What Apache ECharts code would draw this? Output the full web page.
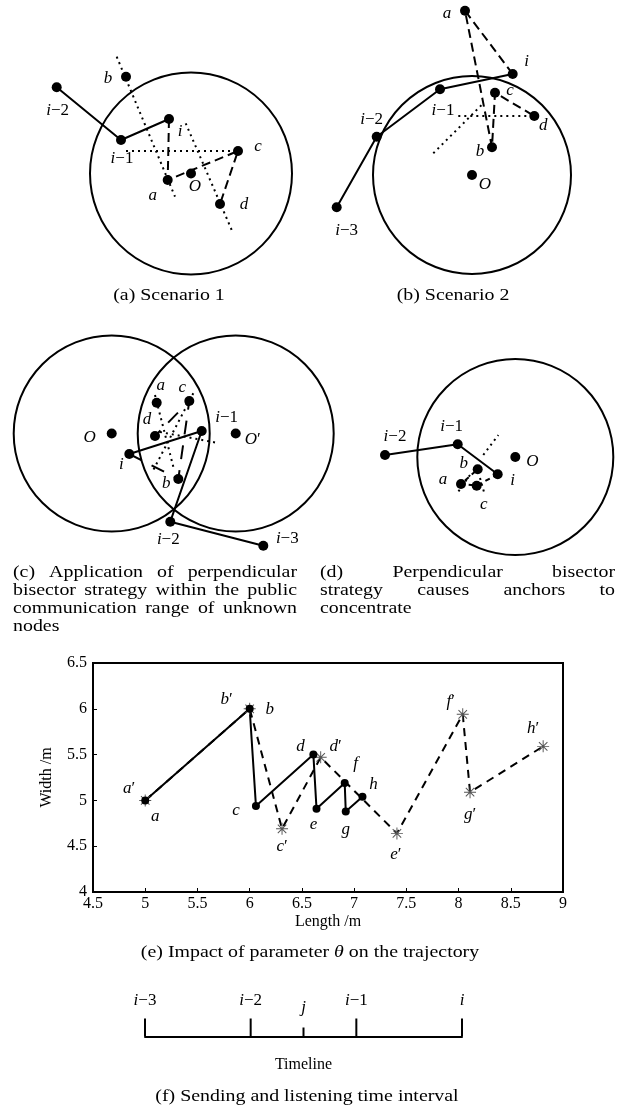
<!DOCTYPE html>
<html>
<head>
<meta charset="utf-8">
<script src="https://cdn.jsdelivr.net/npm/echarts@6/dist/echarts.min.js"></script>
<style>
  html, body { margin: 0; padding: 0; background: #fff; }
  #main { width: 620px; height: 1108px; }
</style>
</head>
<body>
<div id="main"></div>
<script>
// ---------------------------------------------------------------------------
// Geometry of the four sketches (a)-(d): node positions relative to node O,
// in metres-like units (x to the right, y upwards).
// ---------------------------------------------------------------------------

// (a) Scenario 1
const aNodes = [['i−2', -13.43, 8.62], ['i−1', -7.0, 3.35], ['i', -2.2, 5.45], ['a', -2.33, -0.65],
                ['O', 0, 0], ['c', 4.7, 2.25], ['d', 2.9, -3.05], ['b', -6.5, 9.68]];
const aCircles = [[0, 0, 10.1]];
const aSolid = ['i−2', 'i−1', 'i'];
const aDashed = ['i', 'a', 'c', 'd'];
const aDotted = [[[-7.43, 11.68], [-1.6, -2.32]], [[-6.5, 2.25], [4.7, 2.25]], [[-0.53, 5.02], [4.07, -5.65]]];

// (b) Scenario 2
const bNodes = [['a', -0.7, 16.43], ['i', 4.07, 10.1], ['i−1', -3.2, 8.57], ['c', 2.3, 8.23],
                ['d', 6.23, 5.9], ['b', 2.0, 2.77], ['O', 0, 0], ['i−2', -9.53, 3.83], ['i−3', -13.53, -3.23]];
const bCircles = [[0, 0, 9.9]];
const bSolid = ['i−3', 'i−2', 'i−1', 'i'];
const bDashed = ['i', 'a', 'b', 'c', 'd'];
const bDotted = [[[-1.37, 5.9], [6.23, 5.9]], [[-3.87, 2.17], [1.13, 7.17]]];

// (c) Common communication range of two unknown nodes
const cNodes = [['O', 0, 0], ['O′', 12.4, 0], ['a', 4.5, 3.08], ['c', 7.76, 3.25], ['d', 4.33, -0.25],
                ['i−1', 9.0, 0.25], ['i', 1.76, -2.05], ['b', 6.66, -4.55], ['i−2', 5.86, -8.82], ['i−3', 15.16, -11.22]];
const cCircles = [[0, 0, 9.8], [12.4, 0, 9.8]];
const cSolid = ['i−3', 'i−2', 'i−1', 'i'];
const cDashed = ['i', 'b', 'c', 'd'];
const cDotted = [[[4.33, 3.85], [6.16, -3.32]], [[8.16, 4.02], [4.16, -3.65]], [[4.83, 0.15], [10.63, -0.95]]];

// (d) Concentrated anchors
const dNodes = [['i−2', -13.03, 0.2], ['i−1', -5.76, 1.27], ['i', -1.76, -1.73], ['O', 0, 0],
                ['b', -3.76, -1.23], ['a', -5.43, -2.7], ['c', -3.86, -2.87]];
const dCircles = [[0, 0, 9.8]];
const dSolid = ['i−2', 'i−1', 'i'];
const dDashed = ['i', 'c', 'a', 'b'];
const dDotted = [[[-3.2, 0.2], [-1.7, 2.2]], [[-4.53, -1.8], [-5.73, -3.5]], [[-3.53, -2.1], [-3.13, -3.5]]];

// ---------------------------------------------------------------------------
// (e) Trajectory with / without parameter theta (Length /m, Width /m)
// ---------------------------------------------------------------------------
const eSolidNames = ['a', 'b', 'c', 'd', 'e', 'f', 'g', 'h'];
const eSolidX = [5.0, 6.0, 6.06, 6.61, 6.64, 6.91, 6.92, 7.08];
const eSolidY = [5.0, 6.0, 4.94, 5.5, 4.91, 5.19, 4.88, 5.04];
const eDashedNames = ['a′', 'b′', 'c′', 'd′', 'e′', 'f′', 'g′', 'h′'];
const eDashedX = [5.0, 6.0, 6.31, 6.68, 7.41, 8.04, 8.11, 8.81];
const eDashedY = [5.0, 6.0, 4.69, 5.47, 4.64, 5.94, 5.09, 5.59];
const eXTicks = [4.5, 5, 5.5, 6, 6.5, 7, 7.5, 8, 8.5, 9];
const eYTicks = [4, 4.5, 5, 5.5, 6, 6.5];

// ---------------------------------------------------------------------------
// (f) Timeline of sending / listening instants
// ---------------------------------------------------------------------------
const timeNames = ['i−3', 'i−2', 'j', 'i−1', 'i'];
const timePos = [0, 2, 3, 4, 6];
const timeTick = [1, 1, 0.5, 1, 1];

// ---------------------------------------------------------------------------
// Layout and styling
// ---------------------------------------------------------------------------
const SERIF = 'Liberation Serif';
const FS = 16;      // axis / tick text
const LFS = 17;     // node labels
const CFS = 17;     // captions
const CSX = 1.17;   // captions are set a little wider than the serif face
const PX = 10;      // pixels per sketch unit

const sketchLayout = [
  { origin: [191, 173.5], x: [-17, 12], y: [-11, 16] },
  { origin: [472, 175],   x: [-15, 13], y: [-10, 17] },
  { origin: [111.7, 433.5], x: [-10, 19], y: [-12, 10] },
  { origin: [515.3, 457], x: [-14, 10], y: [-10, 10] }
];

// label offsets (px) from each node
const sketchLabelOffset = [
  { 'i−2': [1, 23], 'i−1': [1, 19], 'i': [11, 13], 'a': [-15, 16], 'O': [4, 13], 'c': [20, -4], 'd': [24, 1], 'b': [-18, 2] },
  { 'a': [-18, 3], 'i': [14, -12], 'c': [15, -2], 'd': [9, 10], 'b': [-12, 4], 'O': [13, 10], 'i−2': [-5, -17], 'i−3': [10, 23], 'i−1': [3, 21] },
  { 'a': [4, -17], 'c': [-7, -13], 'd': [-8, -16], 'O': [-22, 4], 'O′': [17, 6], 'i−1': [25, -13], 'i': [-8, 11], 'b': [-12, 5], 'i−2': [-2, 18], 'i−3': [24, -7] },
  { 'i−2': [10, -18], 'i−1': [-6, -18], 'i': [15, 6], 'O': [17, 5], 'b': [-14, -6], 'a': [-18, -4], 'c': [7, 19] }
];

const eLabelOffset = {
  'a': [10, 16], 'b': [20, 1], 'c': [-20, 5], 'd': [-13, -8], 'e': [-3, 16], 'f': [11, -19], 'g': [0, 18], 'h': [11, -12],
  'a′': [-16, -12], 'b′': [-23, -9], 'c′': [0, 18], 'd′': [15, -11], 'e′': [-1, 21], 'f′': [-12, -13], 'g′': [0, 22], 'h′': [-10, -18]
};

function richFor(size) {
  return {
    it: { fontFamily: SERIF, fontStyle: 'italic', fontSize: size, color: '#000' },
    up: { fontFamily: SERIF, fontSize: size, color: '#000' }
  };
}
const rich = richFor(LFS);

// "i−2" -> italic i with upright "−2"; "a′" -> italic a with upright prime
function symbolText(name) {
  const head = name.charAt(0);
  const tail = name.slice(1);
  return '{it|' + head + '}' + (tail ? '{up|' + tail + '}' : '');
}

// asterisk marker
const STAR = 'path://M0,9.2L20,9.2L20,10.8L0,10.8Z M9.2,0L10.8,0L10.8,20L9.2,20Z ' +
             'M3.5,2.36L17.64,16.5L16.5,17.64L2.36,3.5Z M17.64,3.5L3.5,17.64L2.36,16.5L16.5,2.36Z';

const grids = [], xAxes = [], yAxes = [], series = [];

function addSketch(k, nodes, circles, solid, dashed, dotted, dashPattern) {
  const L = sketchLayout[k];
  grids.push({
    left: L.origin[0] + L.x[0] * PX,
    top: L.origin[1] - L.y[1] * PX,
    width: (L.x[1] - L.x[0]) * PX,
    height: (L.y[1] - L.y[0]) * PX
  });
  xAxes.push({ type: 'value', gridIndex: k, min: L.x[0], max: L.x[1], show: false });
  yAxes.push({ type: 'value', gridIndex: k, min: L.y[0], max: L.y[1], show: false });

  const pos = {};
  nodes.forEach(n => { pos[n[0]] = [n[1], n[2]]; });

  series.push({
    type: 'custom', xAxisIndex: k, yAxisIndex: k, silent: true,
    data: circles,
    encode: { x: 0, y: 1 },
    renderItem: (params, api) => {
      const c = api.coord([api.value(0), api.value(1)]);
      const r = api.size([api.value(2), 0])[0];
      return { type: 'circle', shape: { cx: c[0], cy: c[1], r: r },
               style: { fill: 'none', stroke: '#000', lineWidth: 2 } };
    }
  });

  dotted.forEach(seg => {
    series.push({
      type: 'line', xAxisIndex: k, yAxisIndex: k, clip: false, silent: true,
      data: seg, symbol: 'none',
      lineStyle: { color: '#000', width: 2, type: [2, 4] }
    });
  });

  series.push({
    type: 'line', xAxisIndex: k, yAxisIndex: k, clip: false, silent: true,
    data: dashed.map(n => pos[n]), symbol: 'none',
    lineStyle: { color: '#000', width: 2, type: dashPattern }
  });
  series.push({
    type: 'line', xAxisIndex: k, yAxisIndex: k, clip: false, silent: true,
    data: solid.map(n => pos[n]), symbol: 'none',
    lineStyle: { color: '#000', width: 2 }
  });

  const offs = sketchLabelOffset[k];
  series.push({
    type: 'scatter', xAxisIndex: k, yAxisIndex: k, clip: false, silent: true,
    symbolSize: 10, itemStyle: { color: '#000', opacity: 1 },
    data: nodes.map(n => ({
      name: n[0], value: [n[1], n[2]],
      label: { offset: offs[n[0]] || [0, 0] }
    })),
    label: {
      show: true, position: 'inside', align: 'center', verticalAlign: 'middle',
      formatter: p => symbolText(p.name), rich: rich
    }
  });
}

addSketch(0, aNodes, aCircles, aSolid, aDashed, aDotted, [9, 5]);
addSketch(1, bNodes, bCircles, bSolid, bDashed, bDotted, [9, 5]);
addSketch(2, cNodes, cCircles, cSolid, cDashed, cDotted, [14, 11]);
addSketch(3, dNodes, dCircles, dSolid, dDashed, dDotted, [5, 4]);

// (e) plot
grids.push({ left: 93, top: 663, width: 470, height: 229, show: true, borderColor: '#000', borderWidth: 2 });
const axisText = { fontFamily: SERIF, fontSize: FS, color: '#000' };
xAxes.push({
  type: 'value', gridIndex: 4, min: eXTicks[0], max: eXTicks[eXTicks.length - 1], interval: 0.5,
  axisLine: { lineStyle: { color: '#000', width: 2 } },
  axisTick: { inside: true, length: 4, lineStyle: { color: '#000' } },
  splitLine: { show: false },
  axisLabel: Object.assign({ margin: 4 }, axisText),
  name: 'Length /m', nameLocation: 'middle', nameGap: 22, nameTextStyle: axisText
});
yAxes.push({
  type: 'value', gridIndex: 4, min: eYTicks[0], max: eYTicks[eYTicks.length - 1], interval: 0.5,
  axisLine: { lineStyle: { color: '#000', width: 2 } },
  axisTick: { inside: true, length: 4, lineStyle: { color: '#000' } },
  splitLine: { show: false },
  axisLabel: Object.assign({ margin: 6 }, axisText),
  name: 'Width /m', nameLocation: 'middle', nameGap: 38, nameRotate: 90, nameTextStyle: axisText
});

series.push({
  type: 'line', xAxisIndex: 4, yAxisIndex: 4, silent: true,
  data: eDashedX.map((x, i) => ({ name: eDashedNames[i], value: [x, eDashedY[i]],
                                  label: { offset: eLabelOffset[eDashedNames[i]] } })),
  symbol: STAR, symbolSize: 12, itemStyle: { color: '#555', opacity: 1 },
  lineStyle: { color: '#000', width: 2, type: [8, 6] },
  label: { show: true, position: 'inside', formatter: p => symbolText(p.name), rich: rich }
});
series.push({
  type: 'line', xAxisIndex: 4, yAxisIndex: 4, silent: true,
  data: eSolidX.map((x, i) => ({ name: eSolidNames[i], value: [x, eSolidY[i]],
                                 label: { offset: eLabelOffset[eSolidNames[i]] } })),
  symbol: 'circle', symbolSize: 8, itemStyle: { color: '#000', opacity: 1 },
  lineStyle: { color: '#000', width: 2 },
  label: { show: true, position: 'inside', formatter: p => symbolText(p.name), rich: rich }
});

// (f) timeline
grids.push({ left: 145, top: 1018.5, width: 317, height: 18 });
xAxes.push({
  type: 'value', gridIndex: 5, min: timePos[0], max: timePos[timePos.length - 1],
  axisLine: { lineStyle: { color: '#000', width: 2 } },
  axisTick: { show: false }, axisLabel: { show: false }, splitLine: { show: false },
  name: 'Timeline', nameLocation: 'middle', nameGap: 20, nameTextStyle: axisText
});
yAxes.push({ type: 'value', gridIndex: 5, min: 0, max: 1, show: false });
series.push({
  type: 'bar', xAxisIndex: 5, yAxisIndex: 5, silent: true, clip: false,
  barWidth: 2, itemStyle: { color: '#000' },
  data: timePos.map((x, i) => ({
    name: timeNames[i], value: [x, timeTick[i]],
    label: { distance: timeTick[i] < 1 ? 11 : 9 }
  })),
  label: { show: true, position: 'top', formatter: p => symbolText(p.name), rich: rich }
});

// ---------------------------------------------------------------------------
// Sub-figure captions
// ---------------------------------------------------------------------------
const measureCtx = document.createElement('canvas').getContext('2d');
measureCtx.font = CFS + 'px "' + SERIF + '"';

function textEl(str, x, y, align, richStyle) {
  const style = { text: str, fontFamily: SERIF, fontSize: CFS, fill: '#000',
                  align: align || 'left', verticalAlign: 'middle' };
  if (richStyle) style.rich = richStyle;
  return { type: 'text', x: x, y: y, scaleX: CSX, silent: true, style: style };
}

function justified(lines, x0, x1, y0, lh) {
  const out = [];
  lines.forEach((ln, idx) => {
    const y = y0 + idx * lh;
    const words = ln.split(' ');
    if (idx === lines.length - 1 || words.length < 2) {
      out.push(textEl(ln, x0, y));
      return;
    }
    const widths = words.map(w => measureCtx.measureText(w).width * CSX);
    const total = widths.reduce((s, w) => s + w, 0);
    const gap = (x1 - x0 - total) / (words.length - 1);
    let x = x0;
    words.forEach((w, i) => { out.push(textEl(w, x, y)); x += widths[i] + gap; });
  });
  return out;
}

const graphics = [
  textEl('(a) Scenario 1', 169, 296, 'center'),
  textEl('(b) Scenario 2', 453, 296, 'center'),
  ...justified(['(c) Application of perpendicular', 'bisector strategy within the public',
                'communication range of unknown', 'nodes'], 13, 297, 573, 18),
  ...justified(['(d) Perpendicular bisector', 'strategy causes anchors to', 'concentrate'], 320, 615, 573, 18),
  textEl('(e) Impact of parameter {it|θ} on the trajectory', 310, 953, 'center', richFor(CFS)),
  textEl('(f) Sending and listening time interval', 307, 1097, 'center')
];

const chart = echarts.init(document.getElementById('main'), null, { renderer: 'canvas' });
chart.setOption({
  backgroundColor: '#fff',
  animation: false,
  textStyle: { fontFamily: SERIF },
  grid: grids,
  xAxis: xAxes,
  yAxis: yAxes,
  series: series,
  graphic: graphics
});
</script>
</body>
</html>
